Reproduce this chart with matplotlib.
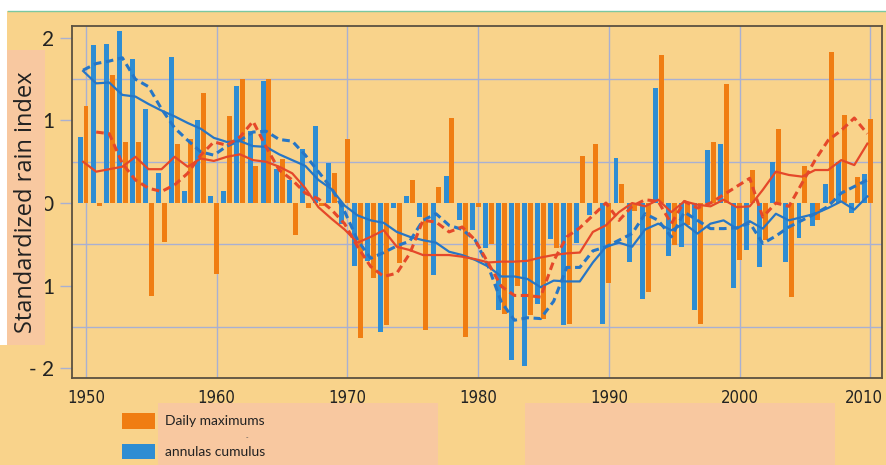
import numpy as np
import matplotlib
matplotlib.use("Agg")
import matplotlib.pyplot as plt
from matplotlib.patches import Rectangle
from matplotlib.lines import Line2D
from matplotlib.transforms import ScaledTranslation

years = list(range(1950, 2011))

# annual cumulus (blue bars)
annual_cumulus = [
    0.80, 1.92, 1.93, 2.09, 1.75, 1.14, 0.36, 1.77, 0.15, 1.01,
    0.085, 0.145, 1.42, 0.87, 1.48, 0.41, 0.28, 0.65, 0.93, 0.49,
    -0.25, -0.76, -0.70, -1.56, -0.06, 0.085, -0.17, -0.87, 0.33, -0.21,
    -0.33, -0.55, -1.30, -1.90, -1.98, -1.22, -0.43, -1.48, -0.48, -0.15,
    -1.46, 0.55, -0.71, -1.16, 1.39, -0.64, -0.53, -1.30, 0.64, 0.71,
    -1.03, -0.57, -0.77, 0.50, -0.72, -0.42, -0.28, 0.23, 0.50, -0.12,
    0.35,
]

# daily maximums (orange bars)
daily_max = [
    1.17, -0.03, 1.55, 0.74, 0.74, -1.13, -0.47, 0.72, 0.78, 1.33,
    -0.86, 1.06, 1.50, 0.45, 1.50, 0.53, -0.39, -0.06, -0.03, 0.36,
    0.78, -1.64, -0.91, -1.48, -0.73, 0.28, -1.54, 0.20, 1.03, -1.62,
    -0.05, -0.50, -1.35, -1.01, -1.36, -1.40, -0.55, -1.47, 0.57, 0.71,
    -0.97, 0.23, -0.10, -1.08, 1.79, -0.51, -0.27, -1.46, 0.74, 1.44,
    -0.69, 0.40, -0.45, 0.90, -1.14, 0.45, -0.21, 1.83, 1.07, 0.32,
    1.02,
]

# smoothed curves
cumulus_long = [
    1.60, 1.45, 1.46, 1.31, 1.29, 1.20, 1.12, 1.05, 0.97, 0.90,
    0.79, 0.74, 0.75, 0.69, 0.68, 0.59, 0.52, 0.45, 0.28, 0.17,
    -0.03, -0.15, -0.21, -0.24, -0.35, -0.41, -0.45, -0.48, -0.59, -0.63,
    -0.69, -0.77, -0.89, -0.89, -0.92, -1.02, -0.94, -0.95, -0.95, -0.72,
    -0.53, -0.48, -0.53, -0.32, -0.25, -0.33, -0.25, -0.37, -0.25, -0.21,
    -0.31, -0.22, -0.31, -0.13, -0.21, -0.17, -0.13, -0.06, 0.02, -0.08,
    0.08,
]
cumulus_short = [
    1.61, 1.69, 1.72, 1.76, 1.50, 1.41, 1.14, 0.91, 0.76, 0.62,
    0.58, 0.69, 0.76, 0.86, 0.87, 0.77, 0.75, 0.58, 0.38, 0.18,
    -0.10, -0.45, -0.67, -0.60, -0.52, -0.46, -0.21, -0.13, -0.27, -0.32,
    -0.45, -0.77, -1.20, -1.42, -1.39, -1.40, -1.19, -0.78, -0.78, -0.58,
    -0.53, -0.45, -0.37, -0.13, -0.21, -0.41, -0.11, -0.21, -0.31, -0.31,
    -0.30, -0.24, -0.49, -0.40, -0.29, -0.21, -0.13, -0.04, 0.12, 0.20,
    0.28,
]
max_long = [
    0.50, 0.38, 0.41, 0.44, 0.56, 0.41, 0.41, 0.56, 0.44, 0.54,
    0.51, 0.56, 0.59, 0.52, 0.50, 0.44, 0.36, 0.18, -0.05, -0.19,
    -0.32, -0.48, -0.41, -0.33, -0.53, -0.57, -0.63, -0.63, -0.63, -0.65,
    -0.68, -0.72, -0.71, -0.71, -0.70, -0.66, -0.63, -0.61, -0.60, -0.35,
    -0.27, -0.11, 0.00, -0.04, 0.04, -0.11, 0.02, -0.02, -0.04, 0.04,
    -0.05, -0.04, 0.16, 0.38, 0.34, 0.32, 0.40, 0.40, 0.52, 0.46,
    0.72,
]
max_short_years = list(range(1951, 2011))
max_short = [
    0.86, 0.84, 0.48, 0.28, 0.18, 0.14, 0.22, 0.36, 0.58,
    0.74, 0.70, 0.80, 0.99, 0.68, 0.40, 0.28, 0.12, 0.05, -0.08,
    -0.25, -0.53, -0.77, -0.89, -0.85, -0.61, -0.21, -0.23, -0.35, -0.29,
    -0.45, -0.73, -1.01, -1.12, -1.12, -1.14, -0.70, -0.41, -0.30, -0.15,
    0.00, -0.21, -0.04, 0.04, 0.02, -0.25, 0.02, -0.06, 0.00, 0.10,
    0.20, 0.30, -0.17, 0.00, -0.04, 0.24, 0.52, 0.76, 0.88, 1.03,
    0.84,
]

ytick_vals = [2, 1, 0, -1, -2]
ytick_labels = ["2", "1", "0", "1", "- 2"]
xtick_vals = [1950, 1960, 1970, 1980, 1990, 2000, 2010]

BG = "#F9D38B"
PINK = "#F8C8A0"
ORANGE = "#F07D12"
BLUE = "#2E8DD3"
RED_LINE = "#E5482A"
BLUE_LINE = "#2676C6"
GRID = "#A9B0D2"
FRAME = "#5B5140"

W, H = 887, 465
fig = plt.figure(figsize=(W / 100, H / 100), dpi=100, facecolor=BG)


def px_rect(x0, y0, x1, y1, color, z=0):
    # rectangle given in pixel coords (origin top-left)
    fig.patches.append(Rectangle((x0 / W, 1 - y1 / H), (x1 - x0) / W, (y1 - y0) / H,
                                 transform=fig.transFigure, facecolor=color,
                                 edgecolor="none", zorder=z))


# white strips and thin green rule at the top
px_rect(0, 0, W, 11, "white")
px_rect(0, 0, 7, 345, "white")
fig.add_artist(Line2D([8 / W, 1], [1 - 11.5 / H, 1 - 11.5 / H], transform=fig.transFigure,
                      color="#7CC8A0", lw=1))

# pink boxes
px_rect(7, 50, 45, 345, PINK)
px_rect(158, 403, 438, H, PINK)
px_rect(525, 403, 835, H, PINK)

ax = fig.add_axes([72 / W, 1 - 378 / H, (882 - 72) / W, (378 - 26) / H])
ax.set_facecolor("none")

yrs = np.array(years)
ax.bar(yrs - 0.45, annual_cumulus, width=0.38, color=BLUE, zorder=3)
ax.bar(yrs, daily_max, width=0.38, color=ORANGE, zorder=3)

ax.plot(yrs - 0.22, cumulus_long, color=BLUE_LINE, lw=1.6, zorder=4)
ax.plot(yrs - 0.22, cumulus_short, color=BLUE_LINE, lw=2.2, ls=(0, (2.5, 1.5)), zorder=4)
ax.plot(yrs - 0.22, max_long, color=RED_LINE, lw=1.6, zorder=4)
ax.plot(np.array(max_short_years) - 0.22, max_short, color=RED_LINE, lw=2.2,
        ls=(0, (2.5, 1.5)), zorder=4)

ax.set_xlim(1948.93, 2010.9)
ax.set_ylim(-2.12, 2.145)

ax.set_yticks(ytick_vals)
ax.set_yticklabels(ytick_labels)
ax.set_yticks(np.arange(-2, 2.01, 0.5), minor=True)
ax.set_xticks(xtick_vals)
ax.set_xticklabels([str(v) for v in xtick_vals])

ax.grid(True, which="minor", axis="y", color=GRID, lw=1, zorder=1)
ax.grid(True, which="major", axis="x", color=GRID, lw=1, zorder=1)
ax.tick_params(axis="y", which="major", length=9, color=GRID, width=1, pad=4,
               labelsize=15, labelcolor="#222222")
ax.tick_params(axis="y", which="minor", length=0)
ax.tick_params(axis="x", length=0, pad=8, labelsize=12, labelcolor="#222222")
for lab in ax.get_yticklabels():
    lab.set_family("Lato")
for lab in ax.get_xticklabels():
    lab.set_family("DejaVu Sans")
    lab.set_fontstretch("condensed")

# the last year label sits right on the edge, nudge it left a little
last = ax.get_xticklabels()[-1]
last.set_transform(last.get_transform() + ScaledTranslation(-0.06, 0, fig.dpi_scale_trans))

for sp in ax.spines.values():
    sp.set_color(FRAME)
    sp.set_linewidth(1.3)

fig.text(26 / W, 1 - 202 / H, "Standardized rain index", rotation=90, ha="center",
         va="center", fontsize=17, family="Open Sans", color="#222222")

# legend
px_rect(122, 413, 155, 429, ORANGE, z=2)
px_rect(122, 444, 155, 459, BLUE, z=2)
fig.text(165 / W, 1 - 421 / H, "Daily maximums", ha="left", va="center", fontsize=10,
         family="Lato", color="#222222")
fig.text(165 / W, 1 - 452 / H, "annulas cumulus", ha="left", va="center", fontsize=10,
         family="Lato", color="#222222")
fig.text(247 / W, 1 - 437 / H, "-", ha="center", va="center", fontsize=5, color="#555555")

fig.savefig("out.png", dpi=100, facecolor=BG)
